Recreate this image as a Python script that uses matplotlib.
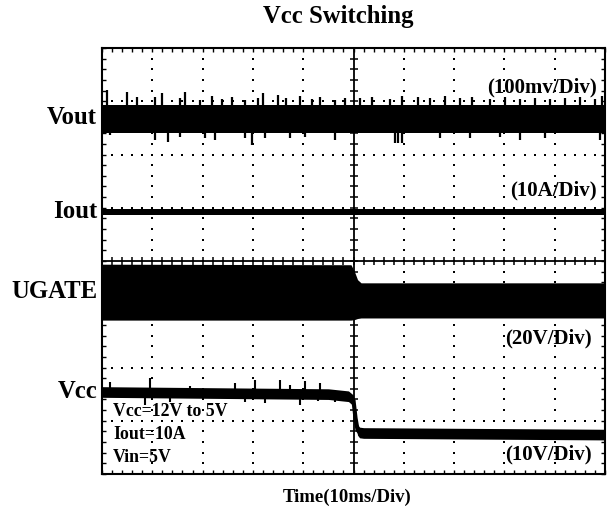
import matplotlib
matplotlib.use("Agg")
import matplotlib.pyplot as plt
import numpy as np

# time axis in ms (10 ms/div), vertical axis in screen divisions
t_min, t_max = -50, 50
div_min, div_max = -4, 4

channel_labels = ["Vout", "Iout", "UGATE", "Vcc"]
channel_label_y = [118, 211, 292, 392]          # pixel rows of left labels
scale_labels = ["(100mv/Div)", "(10A/Div)", "(20V/Div)", "(10V/Div)"]
scale_label_pos = [(597, 87), (597, 190), (592, 338), (592, 454)]
notes = ["Vcc=12V to 5V", "Iout=10A", "Vin=5V"]

# Vout trace: noise band plus spikes
vout_t = [-50, 50]
vout_lo = [2.40, 2.40]
vout_hi = [2.93, 2.93]
vout_up_t = [-49.0, -45.0, -43.0, -39.5, -38.1, -34.5, -33.5, -30.5, -28.1, -26.1,
             -24.2, -21.6, -19.0, -18.0, -15.0, -13.4, -10.6, -8.3, -6.7, -3.7,
             -1.7, 1.3, 3.7, 7.3, 9.6, 12.8, 15.2, 18.2, 21.2, 23.6,
             27.1, 30.1, 33.1, 36.1, 39.1, 42.0, 45.0, 48.0, 49.4]
vout_up_y = [3.21, 3.17, 3.08, 3.08, 3.15, 3.06, 3.17, 3.02, 3.10, 3.04,
             3.08, 3.02, 3.06, 3.15, 3.12, 3.06, 3.10, 3.04, 3.08, 3.02,
             3.06, 3.06, 3.08, 3.04, 3.10, 3.08, 3.06, 3.10, 3.06, 3.08,
             3.04, 3.08, 3.04, 3.06, 3.04, 3.06, 3.08, 3.04, 3.10]
vout_dn_t = [-48.4, -39.5, -36.9, -34.5, -29.5, -27.5, -21.6, -20.2, -17.6, -12.6,
             -9.6, -3.7, 8.3, 8.8, 9.6, 17.2, 23.2, 29.1, 33.1, 38.1, 49.0]
vout_dn_y = [2.37, 2.27, 2.23, 2.33, 2.31, 2.27, 2.31, 2.18, 2.31, 2.31,
             2.33, 2.27, 2.22, 2.22, 2.22, 2.31, 2.31, 2.33, 2.27, 2.31, 2.27]

# Iout trace
iout_t = [-50, 50]
iout_lo = [0.86, 0.86]
iout_hi = [0.97, 0.97]

# UGATE trace (switching node envelope)
ugate_t = [-50, -0.5, 0.2, 0.8, 1.5, 50]
ugate_hi = [-0.06, -0.07, -0.20, -0.35, -0.41, -0.41]
ugate_lo = [-1.11, -1.11, -1.10, -1.08, -1.07, -1.07]

# Vcc trace: 12 V -> 5 V step at t = 0
vcc_t = [-50, -5, -1.0, 0.0, 0.4, 0.8, 1.2, 2.0, 50]
vcc_y = [-2.46, -2.50, -2.54, -2.62, -2.95, -3.17, -3.22, -3.23, -3.26]
vcc_up_t = [-48.4, -40.5, -32.5, -23.6, -19.6, -14.6, -12.6, -9.6, -6.7]
vcc_up_y = [-2.27, -2.20, -2.35, -2.29, -2.23, -2.23, -2.33, -2.25, -2.29]
vcc_dn_t = [-41.4, -36.5, -21.6, -17.6, -10.6, -7.1, -3.7]
vcc_dn_y = [-2.70, -2.65, -2.65, -2.67, -2.70, -2.63, -2.65]

W, H = 610, 512
plt.rcParams['font.family'] = ['Liberation Serif', 'DejaVu Serif']
plt.rcParams['font.weight'] = 'bold'

fig = plt.figure(figsize=(W / 100, H / 100), dpi=100)
left, right, top, bottom = 102, 605, 48, 474
ax = fig.add_axes([left / W, 1 - bottom / H, (right - left) / W, (bottom - top) / H])
ax.set_xlim(t_min, t_max)
ax.set_ylim(div_min, div_max)

# dotted graticule
dot_y = np.arange(div_min, div_max + 0.01, 0.2)
dot_x = np.arange(t_min, t_max + 0.01, 2)
for gx in [-40, -30, -20, -10, 10, 20, 30, 40]:
    ax.plot(np.full_like(dot_y, gx), dot_y, 's', ms=1.7, color='black', mew=0)
for gy in [-3, -2, -1, 1, 2, 3]:
    ax.plot(dot_x, np.full_like(dot_x, gy), 's', ms=1.7, color='black', mew=0)

# centre cross with ticks
ax.axhline(0, color='black', lw=1.3)
ax.axvline(0, color='black', lw=1.3)
ax.plot(dot_x, np.zeros_like(dot_x), '|', ms=6, mew=1.1, color='black')
ax.plot(np.zeros_like(dot_y), dot_y, '_', ms=6, mew=1.1, color='black')

# traces
ax.fill_between(vout_t, vout_lo, vout_hi, color='black', lw=0)
vmid = (vout_lo[0] + vout_hi[0]) / 2
ax.vlines(vout_up_t, vmid, vout_up_y, color='black', lw=1.6)
ax.vlines(vout_dn_t, vmid, vout_dn_y, color='black', lw=1.6)

ax.fill_between(iout_t, iout_lo, iout_hi, color='black', lw=0)

ax.fill_between(ugate_t, ugate_lo, ugate_hi, color='black', lw=0)

ax.fill_between(vcc_t, np.array(vcc_y) - 0.10, np.array(vcc_y) + 0.10, color='black', lw=0)
ax.plot(vcc_t, vcc_y, color='black', lw=3)
ax.vlines(vcc_up_t, -2.48, vcc_up_y, color='black', lw=1.5)
ax.vlines(vcc_dn_t, -2.48, vcc_dn_y, color='black', lw=1.5)

# frame ticks
ax.set_xticks([])
ax.set_yticks([])
ax.set_xticks(dot_x, minor=True)
ax.set_yticks(dot_y, minor=True)
ax.tick_params(which='minor', direction='in', length=3, width=1.0,
               top=True, right=True, labelbottom=False, labelleft=False)
for s in ax.spines.values():
    s.set_linewidth(1.5)

# text
fig.text(338 / W, 1 - 17 / H, "Vcc Switching", ha='center', va='center',
         fontsize=17.8, fontweight='bold')
fig.text(347 / W, 1 - 497 / H, "Time(10ms/Div)", ha='center', va='center',
         fontsize=13.5, fontweight='bold')
for lab, py in zip(channel_labels, channel_label_y):
    fig.text(97 / W, 1 - py / H, lab, ha='right', va='center',
             fontsize=17.8, fontweight='bold')
for lab, (px, py) in zip(scale_labels, scale_label_pos):
    fig.text(px / W, 1 - py / H, lab, ha='right', va='center',
             fontsize=15, fontweight='bold')
for i, lab in enumerate(notes):
    fig.text(113 / W, 1 - (411 + 23.5 * i) / H, lab, ha='left', va='center',
             fontsize=12.8, fontweight='bold')

fig.savefig("out.png", dpi=100)
